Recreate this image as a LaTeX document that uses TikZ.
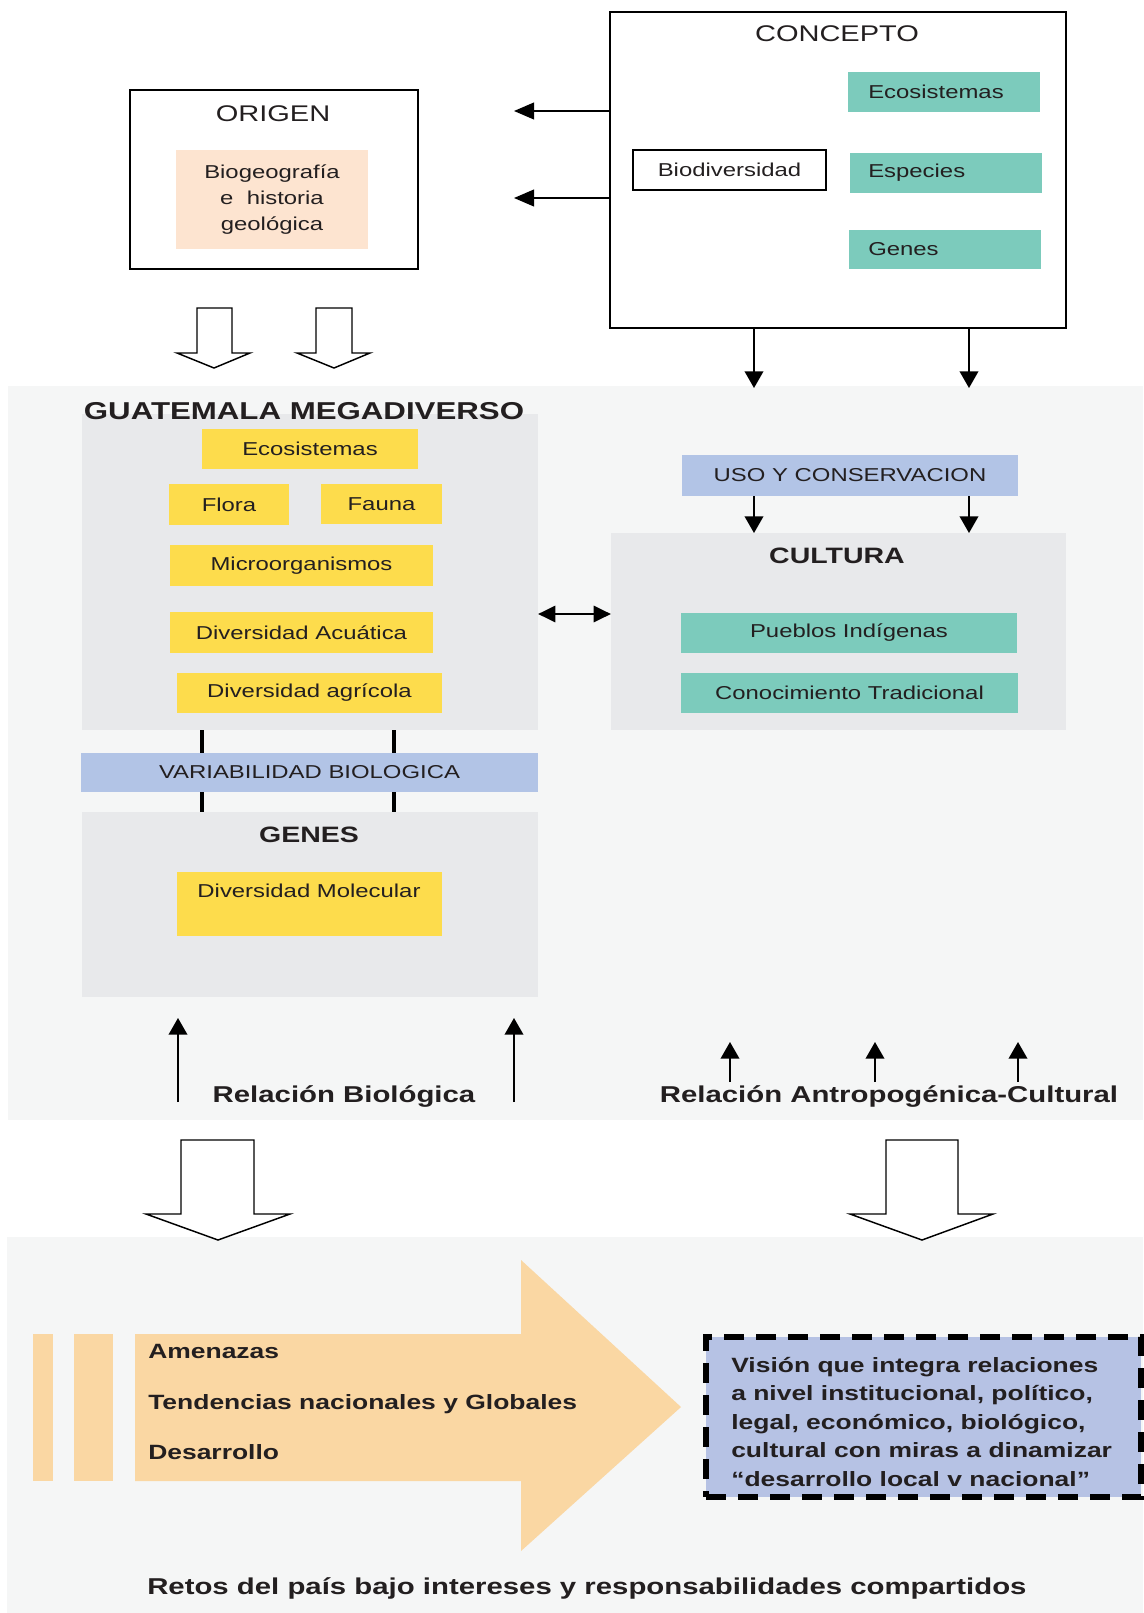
\documentclass[tikz,border=0pt]{standalone}
\usepackage{fontspec}
\setmainfont{Liberation Sans}[FakeStretch=1.28]
\usetikzlibrary{arrows.meta}
\definecolor{cTeal}{RGB}{124,203,188}
\definecolor{cYel}{RGB}{253,220,76}
\definecolor{cPeach}{RGB}{253,228,208}
\definecolor{cBlue}{RGB}{178,196,230}
\definecolor{cBlueB}{RGB}{182,194,228}
\definecolor{cOrange}{RGB}{250,215,163}
\definecolor{cPanel}{RGB}{232,233,235}
\definecolor{cBg}{RGB}{245,246,246}
\definecolor{cTxt}{RGB}{35,31,32}
\newcommand{\mkbox}[7]{\node[#1, minimum width={(#5-#3)*0.75pt}, minimum height={(#6-#4)*0.75pt}] (#2) at ({(#3+#5)/2},{(#4+#6)/2}) {#7};}
\newcommand{\fsmall}{\fontsize{14}{17}\selectfont}
\begin{document}
\begin{tikzpicture}[x=0.75pt, y=-0.75pt,
 base/.style={rectangle, inner sep=0pt, outer sep=0pt, text=cTxt, font=\fsmall, align=center},
 frame/.style={base, draw=black, line width=1.4pt},
 panel/.style={base, fill=cPanel},
 tealb/.style={base, fill=cTeal},
 yelb/.style={base, fill=cYel},
 blueb/.style={base, fill=cBlue},
 peachb/.style={base, fill=cPeach, font=\fontsize{14}{19.5}\selectfont},
 dashb/.style={base, fill=cBlueB, draw=black, line width=3.8pt, dash pattern=on 15pt off 9pt},
 lbl/.style={inner sep=0pt, text=cTxt, font=\fsmall},
 ttl/.style={inner sep=0pt, text=cTxt, font=\fontsize{17}{20}\selectfont},
 ttlG/.style={inner sep=0pt, text=cTxt, font=\bfseries\fontsize{18.3}{22}\selectfont},
 ttlb/.style={inner sep=0pt, text=cTxt, font=\bfseries\fontsize{16.7}{20}\selectfont},
 rel/.style={inner sep=0pt, text=cTxt, font=\bfseries\fontsize{17.2}{20}\selectfont},
 boldt/.style={inner sep=0pt, text=cTxt, font=\bfseries\fontsize{15.5}{21.4}\selectfont},
 retos/.style={inner sep=0pt, text=cTxt, font=\bfseries\fontsize{17.2}{21}\selectfont},
 arr/.style={draw=black, line width=1.2pt, -{Triangle[length=12.5pt,width=14pt]}},
 arrL/.style={draw=black, line width=1.5pt, -{Triangle[length=15pt,width=12.5pt]}},
 dbl/.style={draw=black, line width=2.2pt, {Triangle[length=13pt,width=12pt]}-{Triangle[length=13pt,width=12pt]}},
 bar/.style={draw=black, line width=3pt},
 hollow/.style={draw=black, line width=1.1pt, fill=white, line join=miter},
]
\useasboundingbox (0,0) rectangle (1143,1613);
% backgrounds
\fill[cBg] (8,386) rectangle (1143,1120);
\fill[cBg] (7,1237) rectangle (1143,1613);

% ORIGEN
\mkbox{frame}{origen}{130}{90}{418}{269}{}
\node[ttl, anchor=base] (origenT) at (273,121) {ORIGEN};
\mkbox{peachb}{bio}{176}{150}{368}{249}{Biogeografía\\e~ historia\\geológica}

% CONCEPTO
\mkbox{frame}{concepto}{610}{12}{1066}{328}{}
\node[ttl, anchor=base] (conceptoT) at (837,41) {CONCEPTO};
\mkbox{tealb}{ceco}{848}{72}{1040}{112}{}
\node[lbl, anchor=west] (cecoT) at ([xshift=15pt]ceco.west) {Ecosistemas};
\mkbox{tealb}{cesp}{850}{153}{1042}{193}{}
\node[lbl, anchor=west] (cespT) at ([xshift=13.5pt]cesp.west) {Especies};
\mkbox{tealb}{cgen}{849}{230}{1041}{269}{}
\node[lbl, anchor=west] (cgenT) at ([xshift=14.25pt]cgen.west) {Genes};
\mkbox{frame}{biod}{633}{150}{826}{190}{Biodiversidad}

\coordinate (pL1) at (514,111);
\coordinate (pL2) at (514,198);
\draw[arrL] (concepto.west |- pL1) -- (pL1);
\draw[arrL] (concepto.west |- pL2) -- (pL2);
\coordinate (pD1) at (754,388);
\coordinate (pD2) at (969,388);
\draw[arr] (concepto.south -| pD1) -- (pD1);
\draw[arr] (concepto.south -| pD2) -- (pD2);

% small hollow arrows
\draw[hollow] (197,308) -- (197,353) -- (177,353) -- (214,368) -- (250,353) -- (232,353) -- (232,308) -- cycle;
\draw[hollow] (316,308) -- (316,353) -- (297,353) -- (334,368) -- (370,353) -- (352,353) -- (352,308) -- cycle;

% GUATEMALA MEGADIVERSO
\mkbox{panel}{guat}{82}{414}{538}{730}{}
\node[ttlG, anchor=base] (guatT) at (304,419) {GUATEMALA MEGADIVERSO};
\mkbox{yelb}{yeco}{202}{429}{418}{469}{Ecosistemas}
\mkbox{yelb}{flora}{169}{484}{289}{525}{Flora}
\mkbox{yelb}{fauna}{321}{484}{442}{524}{Fauna}
\mkbox{yelb}{micro}{170}{545}{433}{586}{Microorganismos}
\mkbox{yelb}{acua}{170}{612}{433}{653}{Diversidad Acuática}
\mkbox{yelb}{agri}{177}{673}{442}{713}{Diversidad agrícola}

% USO / CULTURA
\mkbox{blueb}{uso}{682}{455}{1018}{496}{USO Y CONSERVACION}
\mkbox{panel}{cult}{611}{533}{1066}{730}{}
\node[ttlb, anchor=base] (cultT) at (837,563) {CULTURA};
\mkbox{tealb}{pueb}{681}{613}{1017}{653}{Pueblos Indígenas}
\mkbox{tealb}{cono}{681}{673}{1018}{713}{Conocimiento Tradicional}
\draw[arr] (uso.south -| pD1) -- (cult.north -| pD1);
\draw[arr] (uso.south -| pD2) -- (cult.north -| pD2);

\coordinate (pDA) at (574,614);
\draw[dbl] (guat.east |- pDA) -- (cult.west |- pDA);

% VARIABILIDAD / GENES
\mkbox{blueb}{var}{81}{753}{538}{792}{VARIABILIDAD BIOLOGICA}
\mkbox{panel}{genes}{82}{812}{538}{997}{}
\node[ttlb, anchor=base] (genesT) at (309,842) {GENES};
\mkbox{yelb}{mol}{177}{872}{442}{936}{}
\node[lbl, anchor=base] (molT) at (309,897) {Diversidad Molecular};
\coordinate (pB1) at (202,742);
\coordinate (pB2) at (394,742);
\draw[bar] (guat.south -| pB1) -- (var.north -| pB1);
\draw[bar] (guat.south -| pB2) -- (var.north -| pB2);
\draw[bar] (var.south -| pB1) -- (genes.north -| pB1);
\draw[bar] (var.south -| pB2) -- (genes.north -| pB2);

% up arrows and relations
\coordinate (ua1) at (178,1102); \coordinate (ua1t) at (178,1018);
\coordinate (ua2) at (514,1102); \coordinate (ua2t) at (514,1018);
\draw[arr] (ua1) -- (ua1t);
\draw[arr] (ua2) -- (ua2t);
\coordinate (ub1) at (730,1082); \coordinate (ub1t) at (730,1042);
\coordinate (ub2) at (875,1082); \coordinate (ub2t) at (875,1042);
\coordinate (ub3) at (1018,1082); \coordinate (ub3t) at (1018,1042);
\draw[arr] (ub1) -- (ub1t);
\draw[arr] (ub2) -- (ub2t);
\draw[arr] (ub3) -- (ub3t);
\node[rel, anchor=base] (relB) at (344,1102) {Relación Biológica};
\node[rel, anchor=base] (relA) at (889,1102) {Relación Antropogénica-Cultural};

% big hollow arrows
\draw[hollow] (181,1140) -- (181,1214) -- (146,1214) -- (218,1240) -- (290,1214) -- (254,1214) -- (254,1140) -- cycle;
\draw[hollow] (886,1140) -- (886,1214) -- (850,1214) -- (922,1240) -- (993,1214) -- (958,1214) -- (958,1140) -- cycle;

% orange arrow
\fill[cOrange] (33,1334) rectangle (53,1481);
\fill[cOrange] (74,1334) rectangle (113,1481);
\fill[cOrange] (135,1334) -- (521,1334) -- (521,1260) -- (681,1407) -- (521,1551) -- (521,1481) -- (135,1481) -- cycle;
\node[boldt, anchor=base west] (amen) at (148,1358) {Amenazas};
\node[boldt, anchor=base west] (tend) at (148,1409) {Tendencias nacionales y Globales};
\node[boldt, anchor=base west] (desa) at (148,1459) {Desarrollo};

% vision box
\mkbox{dashb}{vision}{706}{1337}{1141}{1497}{}
\node[boldt, anchor=base west] (visionT) at (731,1372) {\begin{tabular}[t]{@{}l@{}}Visión que integra relaciones\\a nivel institucional, político,\\legal, económico, biológico,\\cultural con miras a dinamizar\\“desarrollo local v nacional”\end{tabular}};

\node[retos, anchor=base west] (retosT) at (147,1594) {Retos del país bajo intereses y responsabilidades compartidos};
\end{tikzpicture}
\end{document}
